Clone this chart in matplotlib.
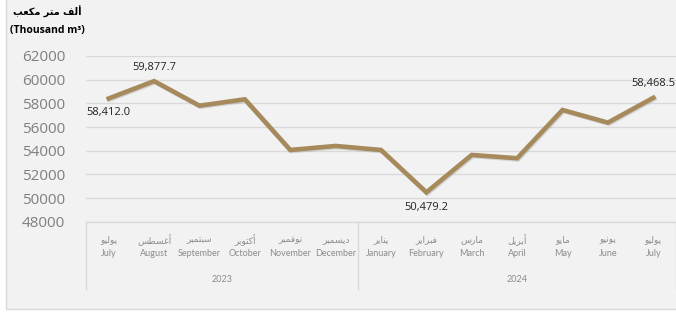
import matplotlib
matplotlib.use('Agg')
import matplotlib.pyplot as plt
import matplotlib.patheffects as pe
from matplotlib.patches import Rectangle

months_ar = ['يوليو', 'أغسطس', 'سبتمبر', 'أكتوبر', 'نوفمبر', 'ديسمبر',
             'يناير', 'فبراير', 'مارس', 'أبريل', 'مايو', 'يونيو', 'يوليو']
months_en = ['July', 'August', 'September', 'October', 'November', 'December',
             'January', 'February', 'March', 'April', 'May', 'June', 'July']
years = ['2023', '2024']
year_counts = [6, 7]
values = [58412.0, 59877.7, 57800, 58340, 54060, 54400,
          54060, 50479.2, 53640, 53360, 57440, 56370, 58468.5]
labelled = {0: 'left', 1: 'above', 7: 'below', 12: 'above'}
yticks = list(range(48000, 62001, 2000))

# contextual forms: isolated, final, initial, medial
FORMS = {
    'ا': ('\uFE8D', '\uFE8E', None, None),
    'أ': ('\uFE83', '\uFE84', None, None),
    'ب': ('\uFE8F', '\uFE90', '\uFE91', '\uFE92'),
    'ت': ('\uFE95', '\uFE96', '\uFE97', '\uFE98'),
    'د': ('\uFEA9', '\uFEAA', None, None),
    'ر': ('\uFEAD', '\uFEAE', None, None),
    'س': ('\uFEB1', '\uFEB2', '\uFEB3', '\uFEB4'),
    'ط': ('\uFEC1', '\uFEC2', '\uFEC3', '\uFEC4'),
    'ع': ('\uFEC9', '\uFECA', '\uFECB', '\uFECC'),
    'غ': ('\uFECD', '\uFECE', '\uFECF', '\uFED0'),
    'ف': ('\uFED1', '\uFED2', '\uFED3', '\uFED4'),
    'ك': ('\uFED9', '\uFEDA', '\uFEDB', '\uFEDC'),
    'ل': ('\uFEDD', '\uFEDE', '\uFEDF', '\uFEE0'),
    'م': ('\uFEE1', '\uFEE2', '\uFEE3', '\uFEE4'),
    'ن': ('\uFEE5', '\uFEE6', '\uFEE7', '\uFEE8'),
    'و': ('\uFEED', '\uFEEE', None, None),
    'ي': ('\uFEF1', '\uFEF2', '\uFEF3', '\uFEF4'),
}


def shape_ar(text):
    out = []
    for i, c in enumerate(text):
        if c not in FORMS:
            out.append(c)
            continue
        iso, fin, ini, med = FORMS[c]
        prev = i > 0 and text[i - 1] in FORMS and FORMS[text[i - 1]][2] is not None
        nxt = ini is not None and i + 1 < len(text) and text[i + 1] in FORMS
        if prev and nxt:
            out.append(med)
        elif prev:
            out.append(fin)
        elif nxt:
            out.append(ini)
        else:
            out.append(iso)
    return ''.join(out)[::-1]


line_color = '#A68A5B'
grid_color = '#D9D9D9'
tick_color = '#7F7F7F'
label_color = '#8C8C8C'

fig = plt.figure(figsize=(6.76, 3.12), dpi=100)
fig.patch.set_facecolor('white')
fig.patches.append(Rectangle((6 / 676, 3 / 312), 1.2, 1.2, transform=fig.transFigure,
                             facecolor='#F2F2F2', edgecolor=grid_color, linewidth=1,
                             zorder=-5))

ax = fig.add_axes([86 / 676, 90.3 / 312, 590 / 676, 165.7 / 312])
ax.set_facecolor('none')
x = list(range(len(values)))
ax.plot(x, values, color=line_color, linewidth=3.3, solid_joinstyle='miter',
        path_effects=[pe.SimpleLineShadow(offset=(0.8, -0.8), shadow_color='#999999', alpha=0.35),
                      pe.Normal()], clip_on=False, zorder=3)

ax.set_xlim(-0.5, len(values) - 0.5)
ax.set_ylim(48000, 62000)
ax.set_yticks(yticks)
ax.set_yticklabels([str(v) for v in yticks], fontfamily='Open Sans', fontsize=11,
                   color=tick_color)
ax.tick_params(axis='y', length=0, pad=15)
ax.set_xticks([])
ax.grid(axis='y', color=grid_color, linewidth=1)
ax.set_axisbelow(True)
for s in ['top', 'right', 'left']:
    ax.spines[s].set_visible(False)
ax.spines['bottom'].set_color(grid_color)
ax.spines['bottom'].set_linewidth(1)

offsets = {'left': (0, -10), 'above': (0, 10), 'below': (0, -11)}
for i, pos in labelled.items():
    ax.annotate(f'{values[i]:,.1f}', (i, values[i]), xytext=offsets[pos],
                textcoords='offset points', ha='center', va='center', fontsize=8,
                fontfamily='Open Sans', color='#222222', annotation_clip=False)

# category axis box
tr = ax.get_xaxis_transform()
bottom = -(289 - 221.7) / 165.7
for i in range(len(values)):
    ax.text(i, -(240 - 221.7) / 165.7, shape_ar(months_ar[i]), transform=tr,
            ha='center', va='center', fontsize=6.5, fontfamily='DejaVu Sans',
            color=label_color)
    ax.text(i, -(254 - 221.7) / 165.7, months_en[i], transform=tr,
            ha='center', va='center', fontsize=6.5, fontfamily='Lato',
            color=label_color)

start = -0.5
edges = [start]
for yr, n in zip(years, year_counts):
    ax.text(start + n / 2, -(280 - 221.7) / 165.7, yr, transform=tr,
            ha='center', va='center', fontsize=6.5, fontfamily='Lato',
            color=label_color)
    start += n
    edges.append(start)
for e in edges:
    ax.plot([e, e], [0, bottom], transform=tr, color=grid_color, linewidth=1,
            clip_on=False)

fig.text(47 / 676, 1 - 12 / 312, shape_ar('ألف متر مكعب'), ha='center', va='center',
         fontsize=7, fontweight='bold', fontfamily='DejaVu Sans', color='black')
fig.text(47 / 676, 1 - 30 / 312, '(Thousand m³)', ha='center', va='center',
         fontsize=7.5, fontweight='bold', fontfamily='Open Sans', color='black')

fig.savefig('out.png', dpi=100)
